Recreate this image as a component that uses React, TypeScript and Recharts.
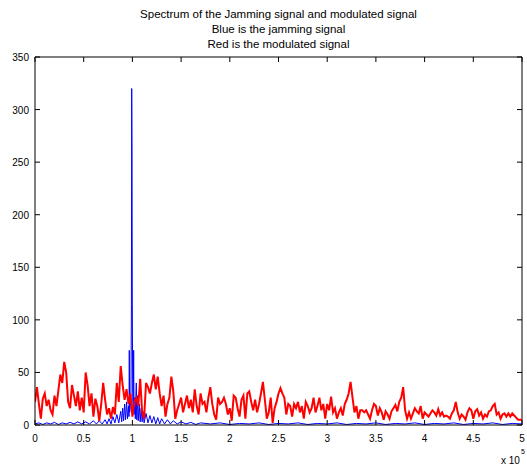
import React from 'react';
import { LineChart, Line, XAxis, YAxis, ReferenceLine } from 'recharts';

// frequency step of the modulated signal samples (x 10^5 Hz)
const redStep = 0.02;

// modulated signal magnitude, 0 .. 5 (x 10^5)
const redMag = [
  22, 36, 20, 6, 25, 30, 18, 24, 14, 10, 28, 18, 33, 48, 40, 60, 50, 22, 16, 38,
  28, 18, 32, 14, 26, 12, 50, 38, 18, 30, 8, 25, 18, 4, 20, 40, 24, 10, 16, 6,
  17, 10, 40, 22,
  56, 38, 24, 34, 20, 30, 8, 22, 26, 18, 44, 12, 6, 40, 36, 30, 40, 48, 34, 46,
  30, 18, 28, 8, 20, 26, 46, 32, 6, 14, 20, 26, 12, 20, 28, 16, 24, 12, 34, 18, 10,
  30, 20, 22, 12, 26, 36, 20, 10, 5, 26, 20, 22, 26, 20, 10, 16, 4, 28, 26, 16,
  8, 24, 28, 6, 30, 32, 22, 14, 24, 12, 20, 30, 41, 24, 6, 12, 26, 2, 16, 22,
  30, 35, 30,
  26, 10, 20, 18, 8, 20, 16, 22, 12, 18, 6, 22, 18, 12, 16, 26, 12, 18, 26, 14,
  20, 6, 20, 14, 27, 12, 16, 6, 12, 16, 9, 20, 24, 30, 41, 26, 12, 18, 6, 14, 14,
  12, 14, 10, 6, 14, 20, 18, 9, 16, 12, 5, 13, 10, 6, 13, 16, 19, 13, 22, 26,
  36, 14, 6, 12, 6, 11, 16, 13, 11, 18, 6, 12, 10, 8, 11, 14, 12, 9, 15, 9, 12, 8,
  9, 8, 6, 11, 14, 22, 12, 6, 10, 8, 5, 12, 16, 14, 6, 13, 15, 9, 12, 6,
  10, 8, 13, 14, 18, 20, 10, 12, 6, 10, 11, 8, 11, 8, 11, 9, 7, 5, 5, 5,
];

// jamming signal spectrum
const blueFreq = [
  0, 0.04, 0.08, 0.12, 0.16, 0.2, 0.24, 0.28, 0.32, 0.36, 0.4, 0.44, 0.48, 0.52,
  0.56, 0.6, 0.63, 0.66, 0.69, 0.72, 0.74, 0.76, 0.78, 0.8, 0.82, 0.84, 0.86,
  0.88, 0.89, 0.9, 0.91, 0.92, 0.93, 0.94, 0.95, 0.96, 0.965, 0.968, 0.972,
  0.98, 0.985, 0.99, 0.993, 0.996, 0.999, 1.003, 1.008, 1.013, 1.017, 1.025,
  1.03, 1.04, 1.045, 1.05, 1.06, 1.07, 1.08, 1.09, 1.1, 1.11, 1.12, 1.14, 1.16,
  1.18, 1.2, 1.22, 1.24, 1.26, 1.28, 1.3, 1.33, 1.36, 1.39, 1.42, 1.46, 1.5,
  1.55, 1.6, 1.65, 1.7, 1.8, 1.9, 2.0, 2.1, 2.2, 2.3, 2.4, 2.5, 2.6, 2.7, 2.8,
  2.9, 3.0, 3.1, 3.2, 3.3, 3.4, 3.5, 3.6, 3.7, 3.8, 3.9, 4.0, 4.1, 4.2, 4.3,
  4.4, 4.5, 4.6, 4.7, 4.8, 4.9, 5.0,
];
const blueMag = [
  1, 2, 0.5, 2, 1, 2.5, 0.5, 2, 1, 2.5, 1, 3, 1, 3,
  1, 4, 1, 4, 1, 5, 1, 6, 1, 8, 2, 10, 2,
  13, 3, 16, 4, 20, 5, 22, 6, 18, 8, 71, 12,
  20, 30, 115, 320, 260, 115, 30, 12, 71, 10, 26,
  6, 40, 5, 28, 4, 20, 3, 16, 3, 13, 2, 11, 2,
  9, 2, 8, 1, 7, 1, 6, 1, 5, 1, 4, 1, 3,
  1, 2.5, 0.5, 2, 1, 2, 0.5, 1.5, 1, 2, 0.5, 1.5, 1, 2, 0.5,
  1.5, 1, 2, 0.5, 1.5, 1, 2, 0.5, 1.5, 1, 2, 0.5, 1.5, 1, 2,
  0.5, 1.5, 1, 2, 0.5, 1.5, 1,
];

const xTicks = [0, 0.5, 1, 1.5, 2, 2.5, 3, 3.5, 4, 4.5, 5];
const yTicks = [0, 50, 100, 150, 200, 250, 300, 350];

const titleLines = [
  'Spectrum of the Jamming signal and modulated signal',
  'Blue is the jamming signal',
  'Red is the modulated signal',
];

const redData = redMag.map((v, i) => ({ f: +(i * redStep).toFixed(3), v }));
const blueData = blueFreq.map((f, i) => ({ f, v: blueMag[i] }));

const W = 527;
const H = 466;
const PLOT_W = 487;
const PLOT_H = 368;
const font = '"Liberation Sans", Arial, Helvetica, sans-serif';

const XTick = (props: any) => {
  const { x, y, payload } = props;
  return (
    <g>
      <line x1={x} y1={y} x2={x} y2={y - 5} stroke="#000" />
      <line x1={x} y1={y - PLOT_H} x2={x} y2={y - PLOT_H + 5} stroke="#000" />
      <text x={x} y={y + 17} textAnchor="middle" fontSize={10} fontFamily={font} fill="#000">
        {payload.value}
      </text>
    </g>
  );
};

const YTick = (props: any) => {
  const { x, y, payload } = props;
  return (
    <g>
      <line x1={x} y1={y} x2={x + 5} y2={y} stroke="#000" />
      <line x1={x + PLOT_W} y1={y} x2={x + PLOT_W - 5} y2={y} stroke="#000" />
      <text x={x - 6} y={y + 4} textAnchor="end" fontSize={10} fontFamily={font} fill="#000">
        {payload.value}
      </text>
    </g>
  );
};

export default function App() {
  return (
    <div style={{ position: 'absolute', left: 0, top: 0, width: W, height: H, background: '#fff', fontFamily: font }}>
      {titleLines.map((t, i) => (
        <div
          key={t}
          style={{
            position: 'absolute',
            left: 35,
            width: PLOT_W,
            top: 7 + i * 15,
            textAlign: 'center',
            fontSize: 11.5,
            lineHeight: '14px',
            color: '#000',
          }}
        >
          {t}
        </div>
      ))}
      <div style={{ position: 'absolute', left: 501, top: 455, fontSize: 10, color: '#000' }}>
        x 10<span style={{ position: 'absolute', left: 20, top: -7, fontSize: 7 }}>5</span>
      </div>
      <div style={{ position: 'absolute', left: 0, top: 0 }}>
        <LineChart width={W} height={H} margin={{ top: 57, right: 5, bottom: 0, left: 0 }}>
          <XAxis
            type="number"
            dataKey="f"
            domain={[0, 5]}
            ticks={xTicks}
            height={41}
            tickSize={0}
            tickMargin={0}
            tickLine={false}
            tick={<XTick />}
            axisLine={{ stroke: '#000' }}
            allowDataOverflow
          />
          <YAxis
            type="number"
            domain={[0, 350]}
            ticks={yTicks}
            width={35}
            tickSize={0}
            tickMargin={0}
            tickLine={false}
            tick={<YTick />}
            axisLine={{ stroke: '#000' }}
            allowDataOverflow
          />
          <ReferenceLine y={350} stroke="#000" ifOverflow="visible" />
          <ReferenceLine x={5} stroke="#000" ifOverflow="visible" />
          <Line
            data={blueData}
            dataKey="v"
            type="linear"
            stroke="#0000ff"
            strokeWidth={1}
            dot={false}
            isAnimationActive={false}
          />
          <Line
            data={redData}
            dataKey="v"
            type="linear"
            stroke="#ff0000"
            strokeWidth={2}
            dot={false}
            isAnimationActive={false}
          />
        </LineChart>
      </div>
    </div>
  );
}
